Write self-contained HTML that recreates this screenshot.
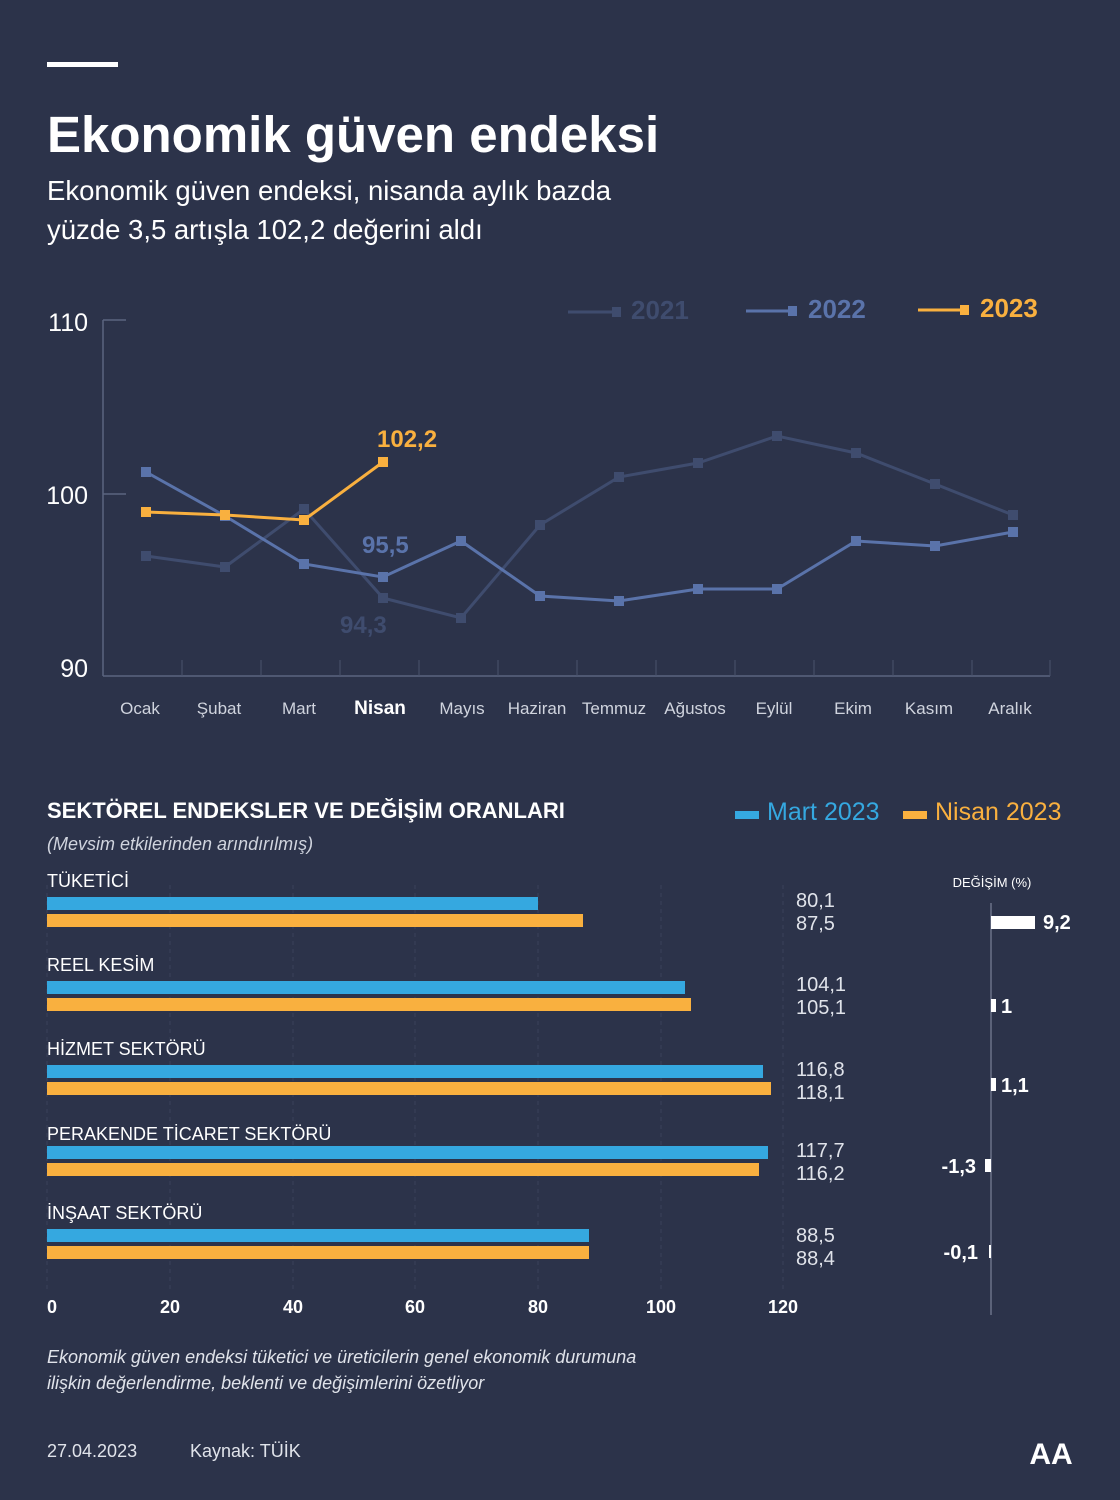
<!DOCTYPE html>
<html><head><meta charset="utf-8"><style>
body{margin:0;background:#2c334a;}
svg{display:block;font-family:"Liberation Sans",sans-serif;}
</style></head><body>
<svg width="1120" height="1500" viewBox="0 0 1120 1500" xmlns="http://www.w3.org/2000/svg">
<rect width="1120" height="1500" fill="#2c334a"/>
<rect x="47" y="62" width="71" height="5" fill="#fff"/>
<text x="47" y="152" font-size="51" font-weight="bold" fill="#fff">Ekonomik güven endeksi</text>
<text x="47" y="200" font-size="27.5" fill="#fff">Ekonomik güven endeksi, nisanda aylık bazda</text>
<text x="47" y="239" font-size="27.5" fill="#fff">yüzde 3,5 artışla 102,2 değerini aldı</text>

<g font-size="26" font-weight="bold">
<line x1="568" y1="312" x2="614" y2="312" stroke="#3f4c6e" stroke-width="3"/><rect x="612" y="307" width="9" height="10" fill="#3f4c6e"/><text x="631" y="319" fill="#3f4c6e">2021</text>
<line x1="746" y1="311" x2="790" y2="311" stroke="#5a73aa" stroke-width="3"/><rect x="788" y="306" width="9" height="10" fill="#5a73aa"/><text x="808" y="318" fill="#5a73aa">2022</text>
<line x1="918" y1="310" x2="962" y2="310" stroke="#f9b03f" stroke-width="3"/><rect x="960" y="305" width="9" height="10" fill="#f9b03f"/><text x="980" y="317" fill="#f9b03f">2023</text>
</g>

<g stroke="#5b6480" stroke-width="1.5">
<line x1="103" y1="320" x2="103" y2="676"/>
<line x1="103" y1="320" x2="126" y2="320"/>
<line x1="103" y1="494" x2="126" y2="494"/>
<line x1="103" y1="676" x2="1050" y2="676"/>
</g>
<g stroke="#4a536c" stroke-width="1">
<line x1="182" y1="660" x2="182" y2="676"/><line x1="261" y1="660" x2="261" y2="676"/><line x1="340" y1="660" x2="340" y2="676"/><line x1="419" y1="660" x2="419" y2="676"/><line x1="498" y1="660" x2="498" y2="676"/><line x1="577" y1="660" x2="577" y2="676"/><line x1="656" y1="660" x2="656" y2="676"/><line x1="735" y1="660" x2="735" y2="676"/><line x1="814" y1="660" x2="814" y2="676"/><line x1="893" y1="660" x2="893" y2="676"/><line x1="972" y1="660" x2="972" y2="676"/><line x1="1050" y1="660" x2="1050" y2="676"/>
</g>
<g font-size="25" fill="#fff" text-anchor="end">
<text x="88" y="331">110</text><text x="88" y="504">100</text><text x="88" y="677">90</text>
</g>
<g font-size="17" fill="#d0d4de" text-anchor="middle">
<text x="140" y="714">Ocak</text><text x="219" y="714">Şubat</text><text x="299" y="714">Mart</text><text x="380" y="714" font-weight="bold" fill="#fff" font-size="19">Nisan</text><text x="462" y="714">Mayıs</text><text x="537" y="714">Haziran</text><text x="614" y="714">Temmuz</text><text x="695" y="714">Ağustos</text><text x="774" y="714">Eylül</text><text x="853" y="714">Ekim</text><text x="929" y="714">Kasım</text><text x="1010" y="714">Aralık</text>
</g>

<polyline fill="none" stroke="#3f4c6e" stroke-width="3" points="146,556 225,567 304,509 383,598 461,618 540,525 619,477 698,463 777,436 856,453 935,484 1013,515"/>
<g fill="#3f4c6e"><rect x="141" y="551" width="10" height="10"/><rect x="220" y="562" width="10" height="10"/><rect x="299" y="504" width="10" height="10"/><rect x="378" y="593" width="10" height="10"/><rect x="456" y="613" width="10" height="10"/><rect x="535" y="520" width="10" height="10"/><rect x="614" y="472" width="10" height="10"/><rect x="693" y="458" width="10" height="10"/><rect x="772" y="431" width="10" height="10"/><rect x="851" y="448" width="10" height="10"/><rect x="930" y="479" width="10" height="10"/><rect x="1008" y="510" width="10" height="10"/></g>
<polyline fill="none" stroke="#5a73aa" stroke-width="3" points="146,472 225,516 304,564 383,577 461,541 540,596 619,601 698,589 777,589 856,541 935,546 1013,532"/>
<g fill="#5a73aa"><rect x="141" y="467" width="10" height="10"/><rect x="220" y="511" width="10" height="10"/><rect x="299" y="559" width="10" height="10"/><rect x="378" y="572" width="10" height="10"/><rect x="456" y="536" width="10" height="10"/><rect x="535" y="591" width="10" height="10"/><rect x="614" y="596" width="10" height="10"/><rect x="693" y="584" width="10" height="10"/><rect x="772" y="584" width="10" height="10"/><rect x="851" y="536" width="10" height="10"/><rect x="930" y="541" width="10" height="10"/><rect x="1008" y="527" width="10" height="10"/></g>
<polyline fill="none" stroke="#f9b03f" stroke-width="3" points="146,512 225,515 304,520 383,462"/>
<g fill="#f9b03f"><rect x="141" y="507" width="10" height="10"/><rect x="220" y="510" width="10" height="10"/><rect x="299" y="515" width="10" height="10"/><rect x="378" y="457" width="10" height="10"/></g>
<g font-size="24" font-weight="bold">
<text x="377" y="447" fill="#f9b03f">102,2</text>
<text x="362" y="553" fill="#5a73aa">95,5</text>
<text x="340" y="633" fill="#3f4c6e">94,3</text>
</g>

<text x="47" y="818" font-size="22" font-weight="bold" fill="#fff">SEKTÖREL ENDEKSLER VE DEĞİŞİM ORANLARI</text>
<text x="47" y="850" font-size="18" font-style="italic" fill="#d0d4de">(Mevsim etkilerinden arındırılmış)</text>
<rect x="735" y="811" width="24" height="8" fill="#35a8e0"/><text x="767" y="820" font-size="25" fill="#35a8e0">Mart 2023</text>
<rect x="903" y="811" width="24" height="8" fill="#f9b03f"/><text x="935" y="820" font-size="25" fill="#f9b03f">Nisan 2023</text>

<g stroke="#3a4259" stroke-width="1" stroke-dasharray="4,4">
<line x1="47" y1="885" x2="47" y2="1290"/><line x1="170" y1="885" x2="170" y2="1290"/><line x1="293" y1="885" x2="293" y2="1290"/><line x1="415" y1="885" x2="415" y2="1290"/><line x1="538" y1="885" x2="538" y2="1290"/><line x1="661" y1="885" x2="661" y2="1290"/><line x1="783" y1="885" x2="783" y2="1290"/>
</g>
<g font-size="18" fill="#fff">
<text x="47" y="887">TÜKETİCİ</text><text x="47" y="971">REEL KESİM</text><text x="47" y="1055">HİZMET SEKTÖRÜ</text><text x="47" y="1140">PERAKENDE TİCARET SEKTÖRÜ</text><text x="47" y="1219">İNŞAAT SEKTÖRÜ</text>
</g>
<g fill="#35a8e0">
<rect x="47" y="897" width="491" height="13"/><rect x="47" y="981" width="638" height="13"/><rect x="47" y="1065" width="716" height="13"/><rect x="47" y="1146" width="721" height="13"/><rect x="47" y="1229" width="542" height="13"/>
</g>
<g fill="#f9b03f">
<rect x="47" y="914" width="536" height="13"/><rect x="47" y="998" width="644" height="13"/><rect x="47" y="1082" width="724" height="13"/><rect x="47" y="1163" width="712" height="13"/><rect x="47" y="1246" width="542" height="13"/>
</g>
<g font-size="20" fill="#e0e3ea">
<text x="796" y="907">80,1</text><text x="796" y="930">87,5</text>
<text x="796" y="991">104,1</text><text x="796" y="1014">105,1</text>
<text x="796" y="1076">116,8</text><text x="796" y="1099">118,1</text>
<text x="796" y="1157">117,7</text><text x="796" y="1180">116,2</text>
<text x="796" y="1242">88,5</text><text x="796" y="1265">88,4</text>
</g>
<g font-size="18" font-weight="bold" fill="#fff" text-anchor="middle">
<text x="52" y="1313">0</text><text x="170" y="1313">20</text><text x="293" y="1313">40</text><text x="415" y="1313">60</text><text x="538" y="1313">80</text><text x="661" y="1313">100</text><text x="783" y="1313">120</text>
</g>
<text x="992" y="887" font-size="13" fill="#fff" text-anchor="middle">DEĞİŞİM (%)</text>
<line x1="991" y1="903" x2="991" y2="1315" stroke="#8a92a8" stroke-width="1"/>
<g fill="#fff">
<rect x="991" y="916" width="44" height="13"/><rect x="991" y="999" width="5" height="13"/><rect x="991" y="1078" width="5" height="13"/><rect x="985" y="1159" width="6" height="13"/><rect x="989" y="1245" width="2" height="13"/>
</g>
<g font-size="20" font-weight="bold" fill="#fff">
<text x="1043" y="929">9,2</text><text x="1001" y="1013">1</text><text x="1001" y="1092">1,1</text>
<text x="976" y="1173" text-anchor="end">-1,3</text><text x="978" y="1259" text-anchor="end">-0,1</text>
</g>

<text x="47" y="1363" font-size="18" font-style="italic" fill="#e0e3ea">Ekonomik güven endeksi tüketici ve üreticilerin genel ekonomik durumuna</text>
<text x="47" y="1389" font-size="18" font-style="italic" fill="#e0e3ea">ilişkin değerlendirme, beklenti ve değişimlerini özetliyor</text>
<text x="47" y="1457" font-size="18" fill="#e0e3ea">27.04.2023</text>
<text x="190" y="1457" font-size="18" fill="#e0e3ea">Kaynak: TÜİK</text>
<text x="1051" y="1464" font-size="30" font-weight="bold" fill="#fff" text-anchor="middle">AA</text>
</svg>
</body></html>
